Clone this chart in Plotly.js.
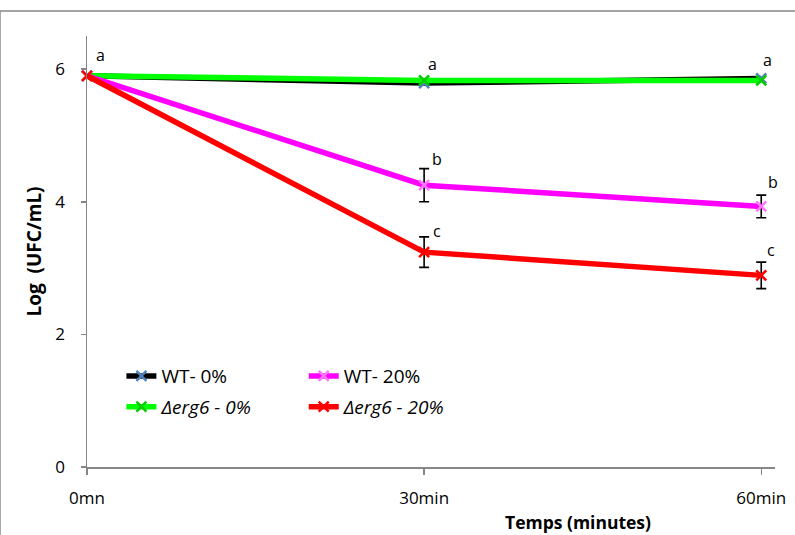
<!DOCTYPE html>
<html>
<head>
<meta charset="utf-8">
<script src="https://cdn.plot.ly/plotly-3.0.1.min.js"></script>
<style>html,body{margin:0;padding:0;background:#fff;}#chart{width:795px;height:535px;}</style>
</head>
<body>
<div id="chart"></div>
<script>
// ---- data ----
const categories = ['0mn', '30min', '60min'];
const seriesNames = ['WT- 0%', '<i>Δerg6 - 0%</i>', 'WT- 20%', '<i>Δerg6 - 20%</i>'];
const wt0 = [5.9, 5.79, 5.86];
const erg0 = [5.9, 5.83, 5.83];
const wt20 = [5.9, 4.25, 3.93];
const erg20 = [5.9, 3.24, 2.89];
const wt20Err = [null, 0.25, 0.17];
const erg20Err = [null, 0.23, 0.20];
const letterCats = ['0mn', '30min', '30min', '30min', '60min', '60min', '60min'];
const letterY = [6.21, 6.08, 4.64, 3.56, 6.14, 4.30, 3.27];
const letterText = ['a', 'a', 'b', 'c', 'a', 'b', 'c'];

const FONT = 'Open Sans, Lato, sans-serif';
const lineW = 5.5;

function tr(name, y, lineColor, markerColor, err, legend, group) {
  const t = {
    type: 'scatter', mode: 'lines+markers', name: name, x: categories, y: y,
    line: {color: lineColor, width: lineW},
    marker: {symbol: 'x-thin-open', size: 10, line: {color: markerColor, width: 2.5}, color: markerColor},
    legend: legend, legendgroup: group, hoverinfo: 'none', cliponaxis: false
  };
  if (err) {
    t.error_y = {type: 'data', array: err, visible: true, color: '#000', thickness: 1.6, width: 5};
  }
  return t;
}

const data = [
  tr(seriesNames[0], wt0, '#000000', '#4F81BD', null, 'legend', 'g1'),
  tr(seriesNames[1], erg0, '#00FF00', '#00CC00', null, 'legend', 'g2'),
  tr(seriesNames[2], wt20, '#FF00FF', '#FF77FF', wt20Err, 'legend2', 'g3'),
  tr(seriesNames[3], erg20, '#FF0000', '#FF0000', erg20Err, 'legend2', 'g4')
];

const xShifts = [13, 8, 13, 13, 6, 12, 10];
const annotations = letterText.map((t, i) => ({
  x: letterCats[i], y: letterY[i], xref: 'x', yref: 'y', text: t, showarrow: false,
  xshift: xShifts[i], font: {family: FONT, size: 16, color: '#000'}
}));
annotations.push({
  x: 0.714, y: -0.128, xref: 'paper', yref: 'paper', xanchor: 'center', yanchor: 'middle',
  text: '<b>Temps (minutes)</b>',
  showarrow: false, font: {family: FONT, size: 17.5, color: '#000'}
});

const legendBase = {
  orientation: 'v', traceorder: 'grouped', tracegroupgap: 3, bgcolor: 'rgba(0,0,0,0)',
  font: {family: FONT, size: 19, color: '#000'}, xanchor: 'left', yanchor: 'top', y: 0.255
};

const layout = {
  width: 795, height: 535,
  margin: {l: 87, r: 20, t: 36, b: 68},
  paper_bgcolor: '#fff', plot_bgcolor: '#fff',
  font: {family: FONT, color: '#000'},
  showlegend: true,
  legend: Object.assign({}, legendBase, {x: 0.05}),
  legend2: Object.assign({}, legendBase, {x: 0.315}),
  xaxis: {
    type: 'category', range: [0, 2.0408], showgrid: false, zeroline: false,
    showline: true, linecolor: '#868686', linewidth: 1.5,
    ticks: 'outside', ticklen: 6, tickcolor: '#868686', tickwidth: 1.5,
    ticklabelstandoff: 9,
    tickfont: {family: FONT, size: 17, color: '#000'}
  },
  yaxis: {
    range: [0, 6.5], tickvals: [0, 2, 4, 6], showgrid: false, zeroline: false,
    showline: true, linecolor: '#868686', linewidth: 1.5,
    ticks: 'outside', ticklen: 5, tickcolor: '#868686', tickwidth: 1.5,
    ticklabelstandoff: 12,
    tickfont: {family: FONT, size: 17, color: '#000'},
    title: {text: '<b>Log\u00a0\u00a0(UFC/mL)</b>', font: {family: FONT, size: 19, color: '#000'}, standoff: 8}
  },
  annotations: annotations,
  shapes: [
    {type: 'line', xref: 'paper', yref: 'paper', x0: -0.1265, x1: 1.1, y0: 1.058, y1: 1.058, line: {color: '#868686', width: 1.5}},
    {type: 'line', xref: 'paper', yref: 'paper', x0: -0.1265, x1: -0.1265, y0: 1.058, y1: -0.2, line: {color: '#868686', width: 1.5}}
  ]
};

Plotly.newPlot('chart', data, layout, {displayModeBar: false, staticPlot: true});
</script>
</body>
</html>
